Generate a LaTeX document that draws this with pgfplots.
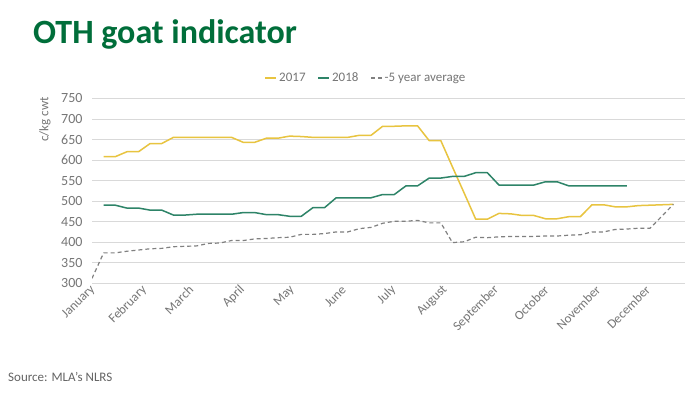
\documentclass[border=0pt]{standalone}
\usepackage{fontspec}
\setmainfont{Carlito}
\usepackage{pgfplots}
\pgfplotsset{compat=1.18}
\definecolor{titlegreen}{RGB}{0,110,58}
\definecolor{gold}{RGB}{232,196,64}
\definecolor{teal18}{RGB}{46,132,104}
\definecolor{avggray}{RGB}{128,128,128}
\definecolor{txtgray}{RGB}{100,100,100}
\definecolor{tickgray}{RGB}{118,118,118}
\definecolor{gridgray}{RGB}{217,217,217}
\begin{document}
\begin{tikzpicture}[x=1bp,y=1bp]
\path[use as bounding box, fill=white] (0,0) rectangle (700,393);
\node[anchor=base west, font=\fontsize{34bp}{40bp}\selectfont\bfseries, text=titlegreen, inner sep=0] at (33,350) {OTH goat indicator};
\node[anchor=west, font=\fontsize{13bp}{15bp}\selectfont, text=txtgray, inner sep=0] at (8,16) {Source: MLA’s NLRS};
\node[rotate=90, anchor=east, font=\fontsize{13bp}{15bp}\selectfont, text=tickgray, inner sep=0] at (45,296) {c/kg cwt};
\begin{axis}[
  at={(92bp,109.7bp)}, anchor=south west,
  scale only axis, width=593bp, height=185bp,
  xmin=0, xmax=51, ymin=300, ymax=750,
  ytick={300,350,...,750},
  xtick={0,4.43,8.43,12.86,17.14,21.57,25.86,30.29,34.71,39,43.43,47.71},
  xticklabels={January,February,March,April,May,June,July,August,September,October,November,December},
  axis line style={draw=none},
  ymajorgrids, grid style={gridgray, line width=0.6bp},
  major tick length=0pt,
  /pgf/number format/assume math mode=true,
  ticklabel style={text=tickgray},
  xticklabel style={font=\fontsize{13bp}{15bp}\selectfont, rotate=45, anchor=east, yshift=-4bp, xshift=1bp},
  yticklabel style={font=\fontsize{14bp}{16bp}\selectfont, xshift=-6bp},
  legend style={at={(0.462,1.11)}, anchor=center, draw=none, fill=none,
    legend columns=3, font=\fontsize{13bp}{15bp}\selectfont, text=tickgray,
    /tikz/every even column/.append style={column sep=10bp},
    inner sep=0pt},
  legend image code/.code={\draw[#1] (0bp,0bp) -- (11bp,0bp);},
  line join=round,
]
\addplot[gold, line width=1.5bp] coordinates {
(1,608) (2,608) (3,620) (4,620) (5,640) (6,640) (7,655) (8,655) (9,655) (10,655)
(11,655) (12,655) (13,643) (14,643) (15,653) (16,653) (17,658) (18,657) (19,655) (20,655)
(21,655) (22,655) (23,660) (24,660) (25,682) (26,682) (27,683) (28,683) (29,647) (30,647)
(31,583) (32,520) (33,456) (34,456) (35,470) (36,469) (37,465) (38,465) (39,457) (40,457)
(41,462) (42,462) (43,491) (44,491) (45,486) (46,486) (47,489) (48,490) (49,491) (50,492)
};
\addlegendentry{2017}
\addplot[teal18, line width=1.5bp] coordinates {
(1,490) (2,490) (3,483) (4,483) (5,478) (6,478) (7,466) (8,466) (9,468) (10,468)
(11,468) (12,468) (13,472) (14,472) (15,467) (16,467) (17,463) (18,463) (19,484) (20,484)
(21,508) (22,508) (23,508) (24,508) (25,516) (26,516) (27,537) (28,537) (29,556) (30,556)
(31,560) (32,560) (33,569) (34,569) (35,539) (36,539) (37,539) (38,539) (39,547) (40,547)
(41,537) (42,537) (43,537) (44,537) (45,537) (46,537)
};
\addlegendentry{2018}
\addplot[avggray, line width=1.2bp, dash pattern=on 4bp off 3bp] coordinates {
(0,312) (1,374) (2,374) (3,378) (4,381) (5,384) (6,385) (7,389) (8,390) (9,391) (10,397)
(11,398) (12,404) (13,404) (14,408) (15,409) (16,411) (17,412) (18,419) (19,419) (20,421)
(21,425) (22,425) (23,433) (24,436) (25,446) (26,451) (27,451) (28,453) (29,447) (30,447)
(31,399) (32,401) (33,412) (34,411) (35,413) (36,414) (37,414) (38,414) (39,415) (40,415)
(41,417) (42,418) (43,425) (44,425) (45,431) (46,432) (47,434) (48,434) (49,463) (50,492)
};
\addlegendentry{-5 year average}
\end{axis}
\end{tikzpicture}
\end{document}
